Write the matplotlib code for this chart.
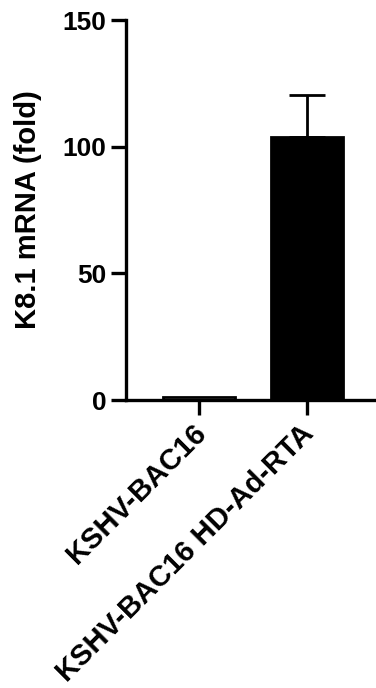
import matplotlib.pyplot as plt
from matplotlib.transforms import ScaledTranslation

plt.rcParams['font.family'] = ['Liberation Sans', 'DejaVu Sans']
plt.rcParams['font.weight'] = 'bold'

# data
groups = ['KSHV-BAC16', 'KSHV-BAC16 HD-Ad-RTA']
means = [1.0, 103.7]
err_up = [0.0, 16.8]
faces = ['white', 'black']

fig = plt.figure(figsize=(3.76, 6.88), dpi=100)
ax = fig.add_axes([0.335, 0.4186, 0.665, 0.5523])

x = range(len(groups))
ax.bar(x, means, width=0.66, color=faces, edgecolor='black', linewidth=2, zorder=2)
ax.errorbar([1], [means[1]], yerr=[[0], [err_up[1]]], fmt='none', ecolor='black',
            elinewidth=2, capsize=13, capthick=2, zorder=1)

ax.set_xlim(-0.676, 1.64)
ax.set_ylim(0, 150)
ax.set_yticks([0, 50, 100, 150])
ax.set_xticks(list(x))
ax.set_xticklabels(groups, rotation=45, ha='right', rotation_mode='anchor', fontsize=21)

for side in ['top', 'right']:
    ax.spines[side].set_visible(False)
for side in ['left', 'bottom']:
    ax.spines[side].set_linewidth(2.4)

ax.tick_params(axis='both', width=2.4, length=11, pad=3)
ax.tick_params(axis='y', labelsize=19)
ax.set_ylabel('K8.1 mRNA (fold)', fontsize=21, fontweight='bold', labelpad=15)

# nudge the rotated labels a little to the left (after tick_params)
shift = ScaledTranslation(-7 / 100, 0, fig.dpi_scale_trans)
for lab in ax.get_xticklabels():
    lab.set_transform(lab.get_transform() + shift)

fig.savefig('out.png', dpi=100)
